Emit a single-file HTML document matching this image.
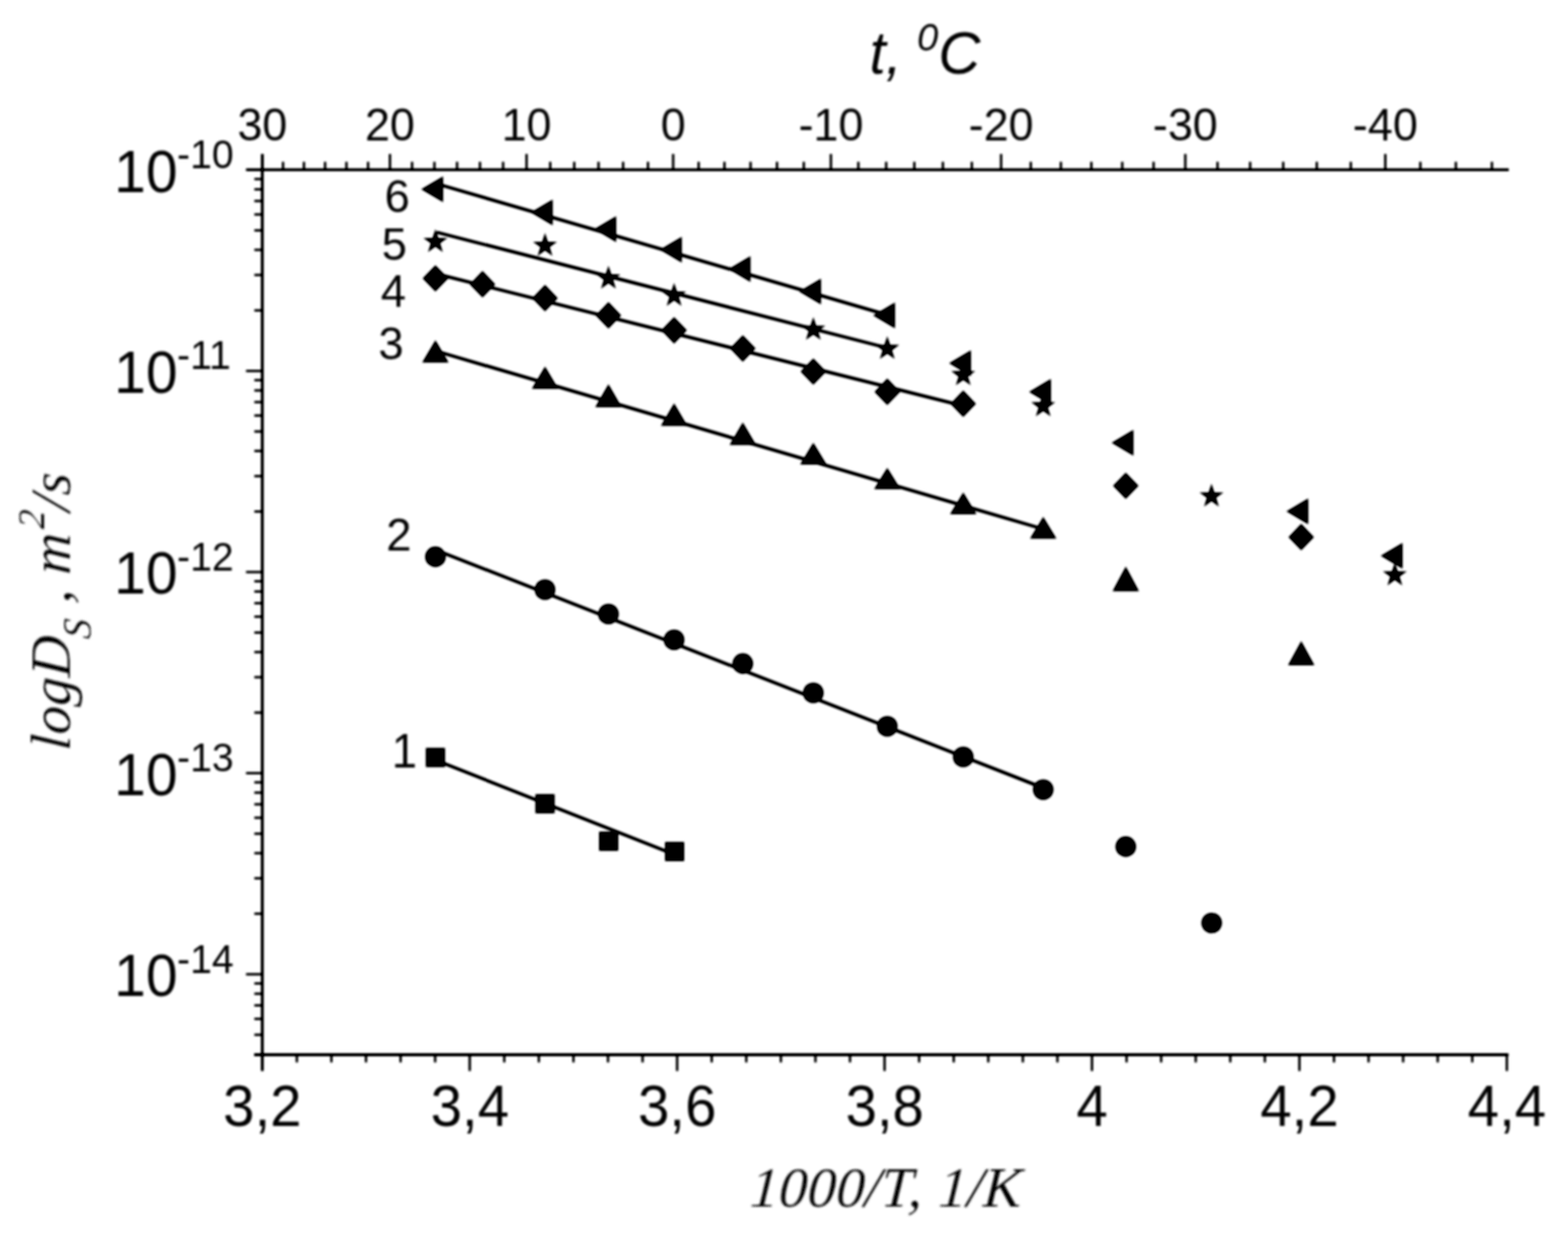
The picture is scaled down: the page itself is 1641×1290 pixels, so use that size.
<!DOCTYPE html>
<html lang="ru">
<head>
<meta charset="utf-8">
<title>logDs vs 1000/T</title>
<style>
html,body{margin:0;padding:0;background:#fff;}
body{width:1641px;height:1290px;overflow:hidden;}
svg{display:block;}
</style>
</head>
<body>
<svg width="1641" height="1290" viewBox="0 0 1641 1290">
<defs><filter id="soft" x="0" y="0" width="1641" height="1290" filterUnits="userSpaceOnUse"><feGaussianBlur stdDeviation="0.95"/><feComponentTransfer><feFuncA type="linear" slope="1.16" intercept="0"/></feComponentTransfer></filter><filter id="softt" x="0" y="0" width="1641" height="1290" filterUnits="userSpaceOnUse"><feGaussianBlur stdDeviation="0.9"/></filter></defs>
<rect x="0" y="0" width="1641" height="1290" fill="#fff"/>
<g filter="url(#soft)">
<g stroke="#000" stroke-width="2.8" fill="none" stroke-linecap="butt">
<line x1="274.5" y1="176.29999999999998" x2="274.5" y2="1120.5"/>
<line x1="257.5" y1="177.7" x2="1579" y2="177.7"/>
<line x1="266" y1="1103.5" x2="1578.7" y2="1103.5"/>
<line x1="274.56" y1="161.1" x2="274.56" y2="177.7"/>
<line x1="296.20" y1="169.29999999999998" x2="296.20" y2="177.7" stroke-width="2.3"/>
<line x1="318.09" y1="169.29999999999998" x2="318.09" y2="177.7" stroke-width="2.3"/>
<line x1="340.21" y1="169.29999999999998" x2="340.21" y2="177.7" stroke-width="2.3"/>
<line x1="362.58" y1="169.29999999999998" x2="362.58" y2="177.7" stroke-width="2.3"/>
<line x1="385.21" y1="169.29999999999998" x2="385.21" y2="177.7" stroke-width="2.3"/>
<line x1="408.10" y1="161.1" x2="408.10" y2="177.7" stroke-width="2.3"/>
<line x1="431.24" y1="169.29999999999998" x2="431.24" y2="177.7" stroke-width="2.3"/>
<line x1="454.65" y1="169.29999999999998" x2="454.65" y2="177.7" stroke-width="2.3"/>
<line x1="478.34" y1="169.29999999999998" x2="478.34" y2="177.7" stroke-width="2.3"/>
<line x1="502.30" y1="169.29999999999998" x2="502.30" y2="177.7" stroke-width="2.3"/>
<line x1="526.53" y1="169.29999999999998" x2="526.53" y2="177.7" stroke-width="2.3"/>
<line x1="551.06" y1="161.1" x2="551.06" y2="177.7" stroke-width="2.3"/>
<line x1="575.87" y1="169.29999999999998" x2="575.87" y2="177.7" stroke-width="2.3"/>
<line x1="600.98" y1="169.29999999999998" x2="600.98" y2="177.7" stroke-width="2.3"/>
<line x1="626.40" y1="169.29999999999998" x2="626.40" y2="177.7" stroke-width="2.3"/>
<line x1="652.11" y1="169.29999999999998" x2="652.11" y2="177.7" stroke-width="2.3"/>
<line x1="678.14" y1="169.29999999999998" x2="678.14" y2="177.7" stroke-width="2.3"/>
<line x1="704.49" y1="161.1" x2="704.49" y2="177.7" stroke-width="2.3"/>
<line x1="731.16" y1="169.29999999999998" x2="731.16" y2="177.7" stroke-width="2.3"/>
<line x1="758.16" y1="169.29999999999998" x2="758.16" y2="177.7" stroke-width="2.3"/>
<line x1="785.50" y1="169.29999999999998" x2="785.50" y2="177.7" stroke-width="2.3"/>
<line x1="813.17" y1="169.29999999999998" x2="813.17" y2="177.7" stroke-width="2.3"/>
<line x1="841.20" y1="169.29999999999998" x2="841.20" y2="177.7" stroke-width="2.3"/>
<line x1="869.58" y1="161.1" x2="869.58" y2="177.7" stroke-width="2.3"/>
<line x1="898.32" y1="169.29999999999998" x2="898.32" y2="177.7" stroke-width="2.3"/>
<line x1="927.44" y1="169.29999999999998" x2="927.44" y2="177.7" stroke-width="2.3"/>
<line x1="956.92" y1="169.29999999999998" x2="956.92" y2="177.7" stroke-width="2.3"/>
<line x1="986.79" y1="169.29999999999998" x2="986.79" y2="177.7" stroke-width="2.3"/>
<line x1="1017.06" y1="169.29999999999998" x2="1017.06" y2="177.7" stroke-width="2.3"/>
<line x1="1047.72" y1="161.1" x2="1047.72" y2="177.7" stroke-width="2.3"/>
<line x1="1078.78" y1="169.29999999999998" x2="1078.78" y2="177.7" stroke-width="2.3"/>
<line x1="1110.26" y1="169.29999999999998" x2="1110.26" y2="177.7" stroke-width="2.3"/>
<line x1="1142.17" y1="169.29999999999998" x2="1142.17" y2="177.7" stroke-width="2.3"/>
<line x1="1174.50" y1="169.29999999999998" x2="1174.50" y2="177.7" stroke-width="2.3"/>
<line x1="1207.28" y1="169.29999999999998" x2="1207.28" y2="177.7" stroke-width="2.3"/>
<line x1="1240.50" y1="161.1" x2="1240.50" y2="177.7" stroke-width="2.3"/>
<line x1="1274.19" y1="169.29999999999998" x2="1274.19" y2="177.7" stroke-width="2.3"/>
<line x1="1308.34" y1="169.29999999999998" x2="1308.34" y2="177.7" stroke-width="2.3"/>
<line x1="1342.97" y1="169.29999999999998" x2="1342.97" y2="177.7" stroke-width="2.3"/>
<line x1="1378.09" y1="169.29999999999998" x2="1378.09" y2="177.7" stroke-width="2.3"/>
<line x1="1413.70" y1="169.29999999999998" x2="1413.70" y2="177.7" stroke-width="2.3"/>
<line x1="1449.83" y1="161.1" x2="1449.83" y2="177.7" stroke-width="2.3"/>
<line x1="1486.47" y1="169.29999999999998" x2="1486.47" y2="177.7" stroke-width="2.3"/>
<line x1="1523.65" y1="169.29999999999998" x2="1523.65" y2="177.7" stroke-width="2.3"/>
<line x1="1561.37" y1="169.29999999999998" x2="1561.37" y2="177.7" stroke-width="2.3"/>
<line x1="310.68" y1="1103.5" x2="310.68" y2="1111.5" stroke-width="2.3"/>
<line x1="346.86" y1="1103.5" x2="346.86" y2="1111.5" stroke-width="2.3"/>
<line x1="383.04" y1="1103.5" x2="383.04" y2="1111.5" stroke-width="2.3"/>
<line x1="419.22" y1="1103.5" x2="419.22" y2="1111.5" stroke-width="2.3"/>
<line x1="455.40" y1="1103.5" x2="455.40" y2="1111.5" stroke-width="2.3"/>
<line x1="491.58" y1="1103.5" x2="491.58" y2="1120.5" stroke-width="2.3"/>
<line x1="527.76" y1="1103.5" x2="527.76" y2="1111.5" stroke-width="2.3"/>
<line x1="563.94" y1="1103.5" x2="563.94" y2="1111.5" stroke-width="2.3"/>
<line x1="600.12" y1="1103.5" x2="600.12" y2="1111.5" stroke-width="2.3"/>
<line x1="636.31" y1="1103.5" x2="636.31" y2="1111.5" stroke-width="2.3"/>
<line x1="672.49" y1="1103.5" x2="672.49" y2="1111.5" stroke-width="2.3"/>
<line x1="708.67" y1="1103.5" x2="708.67" y2="1120.5" stroke-width="2.3"/>
<line x1="744.85" y1="1103.5" x2="744.85" y2="1111.5" stroke-width="2.3"/>
<line x1="781.03" y1="1103.5" x2="781.03" y2="1111.5" stroke-width="2.3"/>
<line x1="817.21" y1="1103.5" x2="817.21" y2="1111.5" stroke-width="2.3"/>
<line x1="853.39" y1="1103.5" x2="853.39" y2="1111.5" stroke-width="2.3"/>
<line x1="889.57" y1="1103.5" x2="889.57" y2="1111.5" stroke-width="2.3"/>
<line x1="925.75" y1="1103.5" x2="925.75" y2="1120.5" stroke-width="2.3"/>
<line x1="961.93" y1="1103.5" x2="961.93" y2="1111.5" stroke-width="2.3"/>
<line x1="998.11" y1="1103.5" x2="998.11" y2="1111.5" stroke-width="2.3"/>
<line x1="1034.29" y1="1103.5" x2="1034.29" y2="1111.5" stroke-width="2.3"/>
<line x1="1070.47" y1="1103.5" x2="1070.47" y2="1111.5" stroke-width="2.3"/>
<line x1="1106.65" y1="1103.5" x2="1106.65" y2="1111.5" stroke-width="2.3"/>
<line x1="1142.83" y1="1103.5" x2="1142.83" y2="1120.5" stroke-width="2.3"/>
<line x1="1179.01" y1="1103.5" x2="1179.01" y2="1111.5" stroke-width="2.3"/>
<line x1="1215.19" y1="1103.5" x2="1215.19" y2="1111.5" stroke-width="2.3"/>
<line x1="1251.38" y1="1103.5" x2="1251.38" y2="1111.5" stroke-width="2.3"/>
<line x1="1287.56" y1="1103.5" x2="1287.56" y2="1111.5" stroke-width="2.3"/>
<line x1="1323.74" y1="1103.5" x2="1323.74" y2="1111.5" stroke-width="2.3"/>
<line x1="1359.92" y1="1103.5" x2="1359.92" y2="1120.5" stroke-width="2.3"/>
<line x1="1396.10" y1="1103.5" x2="1396.10" y2="1111.5" stroke-width="2.3"/>
<line x1="1432.28" y1="1103.5" x2="1432.28" y2="1111.5" stroke-width="2.3"/>
<line x1="1468.46" y1="1103.5" x2="1468.46" y2="1111.5" stroke-width="2.3"/>
<line x1="1504.64" y1="1103.5" x2="1504.64" y2="1111.5" stroke-width="2.3"/>
<line x1="1540.82" y1="1103.5" x2="1540.82" y2="1111.5" stroke-width="2.3"/>
<line x1="1577.00" y1="1103.5" x2="1577.00" y2="1120.5" stroke-width="2.3"/>
<line x1="257.5" y1="388.10" x2="274.5" y2="388.10" stroke-width="2.3"/>
<line x1="266.2" y1="324.76" x2="274.5" y2="324.76" stroke-width="2.3"/>
<line x1="266.2" y1="287.71" x2="274.5" y2="287.71" stroke-width="2.3"/>
<line x1="266.2" y1="261.43" x2="274.5" y2="261.43" stroke-width="2.3"/>
<line x1="266.2" y1="241.04" x2="274.5" y2="241.04" stroke-width="2.3"/>
<line x1="266.2" y1="224.38" x2="274.5" y2="224.38" stroke-width="2.3"/>
<line x1="266.2" y1="210.29" x2="274.5" y2="210.29" stroke-width="2.3"/>
<line x1="266.2" y1="198.09" x2="274.5" y2="198.09" stroke-width="2.3"/>
<line x1="266.2" y1="187.33" x2="274.5" y2="187.33" stroke-width="2.3"/>
<line x1="257.5" y1="598.50" x2="274.5" y2="598.50" stroke-width="2.3"/>
<line x1="266.2" y1="535.16" x2="274.5" y2="535.16" stroke-width="2.3"/>
<line x1="266.2" y1="498.11" x2="274.5" y2="498.11" stroke-width="2.3"/>
<line x1="266.2" y1="471.83" x2="274.5" y2="471.83" stroke-width="2.3"/>
<line x1="266.2" y1="451.44" x2="274.5" y2="451.44" stroke-width="2.3"/>
<line x1="266.2" y1="434.78" x2="274.5" y2="434.78" stroke-width="2.3"/>
<line x1="266.2" y1="420.69" x2="274.5" y2="420.69" stroke-width="2.3"/>
<line x1="266.2" y1="408.49" x2="274.5" y2="408.49" stroke-width="2.3"/>
<line x1="266.2" y1="397.73" x2="274.5" y2="397.73" stroke-width="2.3"/>
<line x1="257.5" y1="808.90" x2="274.5" y2="808.90" stroke-width="2.3"/>
<line x1="266.2" y1="745.56" x2="274.5" y2="745.56" stroke-width="2.3"/>
<line x1="266.2" y1="708.51" x2="274.5" y2="708.51" stroke-width="2.3"/>
<line x1="266.2" y1="682.23" x2="274.5" y2="682.23" stroke-width="2.3"/>
<line x1="266.2" y1="661.84" x2="274.5" y2="661.84" stroke-width="2.3"/>
<line x1="266.2" y1="645.18" x2="274.5" y2="645.18" stroke-width="2.3"/>
<line x1="266.2" y1="631.09" x2="274.5" y2="631.09" stroke-width="2.3"/>
<line x1="266.2" y1="618.89" x2="274.5" y2="618.89" stroke-width="2.3"/>
<line x1="266.2" y1="608.13" x2="274.5" y2="608.13" stroke-width="2.3"/>
<line x1="257.5" y1="1019.30" x2="274.5" y2="1019.30" stroke-width="2.3"/>
<line x1="266.2" y1="955.96" x2="274.5" y2="955.96" stroke-width="2.3"/>
<line x1="266.2" y1="918.91" x2="274.5" y2="918.91" stroke-width="2.3"/>
<line x1="266.2" y1="892.63" x2="274.5" y2="892.63" stroke-width="2.3"/>
<line x1="266.2" y1="872.24" x2="274.5" y2="872.24" stroke-width="2.3"/>
<line x1="266.2" y1="855.58" x2="274.5" y2="855.58" stroke-width="2.3"/>
<line x1="266.2" y1="841.49" x2="274.5" y2="841.49" stroke-width="2.3"/>
<line x1="266.2" y1="829.29" x2="274.5" y2="829.29" stroke-width="2.3"/>
<line x1="266.2" y1="818.53" x2="274.5" y2="818.53" stroke-width="2.3"/>
<line x1="266.2" y1="1082.64" x2="274.5" y2="1082.64" stroke-width="2.3"/>
<line x1="266.2" y1="1065.98" x2="274.5" y2="1065.98" stroke-width="2.3"/>
<line x1="266.2" y1="1051.89" x2="274.5" y2="1051.89" stroke-width="2.3"/>
<line x1="266.2" y1="1039.69" x2="274.5" y2="1039.69" stroke-width="2.3"/>
<line x1="266.2" y1="1028.93" x2="274.5" y2="1028.93" stroke-width="2.3"/>
</g>
<g stroke="#000" stroke-width="3.3" fill="none">
<line x1="456.5" y1="795.5" x2="704" y2="893.3"/>
<line x1="457.5" y1="576.0" x2="1091.8" y2="824.4"/>
<line x1="457" y1="367.5" x2="1091.8" y2="553.5"/>
<line x1="457" y1="286.6" x2="1008" y2="424.6"/>
<line x1="457" y1="243" x2="928.6" y2="364"/>
<line x1="456" y1="192.0" x2="930" y2="329.8"/>
</g>
<g fill="#000" stroke="none">
<rect x="445.70" y="782.50" width="20.0" height="20.0"/>
<rect x="560.40" y="830.90" width="20.0" height="20.0"/>
<rect x="627.00" y="870.10" width="20.0" height="20.0"/>
<rect x="696.00" y="880.90" width="20.0" height="20.0"/>
<circle cx="455.7" cy="582.5" r="10.7"/>
<circle cx="570.4" cy="616.9" r="10.7"/>
<circle cx="636.8" cy="642.4" r="10.7"/>
<circle cx="705.5" cy="669.4" r="10.7"/>
<circle cx="777.4" cy="694.2" r="10.7"/>
<circle cx="851.2" cy="724.9" r="10.7"/>
<circle cx="928.6" cy="759.9" r="10.7"/>
<circle cx="1008.1" cy="791.9" r="10.7"/>
<circle cx="1091.8" cy="826.1" r="10.7"/>
<circle cx="1178.2" cy="885.7" r="10.7"/>
<circle cx="1268.1" cy="965.6" r="10.7"/>
<polygon points="455.7,355.90 441.9,379.30 469.5,379.30"/>
<polygon points="570.4,383.40 556.6,406.80 584.1999999999999,406.80"/>
<polygon points="636.8,402.10 623.0,426.10 650.5999999999999,426.10"/>
<polygon points="705.5,422.10 691.7,445.60 719.3,445.60"/>
<polygon points="777.4,442.00 763.6,465.40 791.1999999999999,465.40"/>
<polygon points="851.2,463.30 837.4000000000001,485.90 865.0,485.90"/>
<polygon points="928.6,489.50 914.8000000000001,511.70 942.4,511.70"/>
<polygon points="1008.1,515.20 994.3000000000001,537.90 1021.9,537.90"/>
<polygon points="1091.8,540.70 1078.0,563.60 1105.6,563.60"/>
<polygon points="1178.2,592.80 1164.4,618.50 1192.0,618.50"/>
<polygon points="1361.8,670.70 1348.0,695.90 1375.6,695.90"/>
<polygon points="455.7,277.4 469.0,291.2 455.7,305.0 442.4,291.2"/>
<polygon points="505,283.59999999999997 518.3,297.4 505,311.2 491.7,297.4"/>
<polygon points="570.4,298.09999999999997 583.6999999999999,311.9 570.4,325.7 557.1,311.9"/>
<polygon points="636.8,316.09999999999997 650.0999999999999,329.9 636.8,343.7 623.5,329.9"/>
<polygon points="705.5,331.8 718.8,345.6 705.5,359.40000000000003 692.2,345.6"/>
<polygon points="777.4,350.8 790.6999999999999,364.6 777.4,378.40000000000003 764.1,364.6"/>
<polygon points="851.2,374.9 864.5,388.7 851.2,402.5 837.9000000000001,388.7"/>
<polygon points="928.6,396.09999999999997 941.9,409.9 928.6,423.7 915.3000000000001,409.9"/>
<polygon points="1008.1,408.59999999999997 1021.4,422.4 1008.1,436.2 994.8000000000001,422.4"/>
<polygon points="1178.2,494.4 1191.5,508.2 1178.2,522.0 1164.9,508.2"/>
<polygon points="1361.8,548.1 1375.1,561.9 1361.8,575.6999999999999 1348.5,561.9"/>
<polygon points="455.70,239.80 458.66,248.92 468.25,248.92 460.50,254.56 463.46,263.68 455.70,258.04 447.94,263.68 450.90,254.56 443.15,248.92 452.74,248.92"/>
<polygon points="570.40,243.80 573.36,252.92 582.95,252.92 575.20,258.56 578.16,267.68 570.40,262.04 562.64,267.68 565.60,258.56 557.85,252.92 567.44,252.92"/>
<polygon points="636.80,278.00 639.76,287.12 649.35,287.12 641.60,292.76 644.56,301.88 636.80,296.24 629.04,301.88 632.00,292.76 624.25,287.12 633.84,287.12"/>
<polygon points="705.50,296.00 708.46,305.12 718.05,305.12 710.30,310.76 713.26,319.88 705.50,314.24 697.74,319.88 700.70,310.76 692.95,305.12 702.54,305.12"/>
<polygon points="851.20,331.70 854.16,340.82 863.75,340.82 856.00,346.46 858.96,355.58 851.20,349.94 843.44,355.58 846.40,346.46 838.65,340.82 848.24,340.82"/>
<polygon points="928.60,351.70 931.56,360.82 941.15,360.82 933.40,366.46 936.36,375.58 928.60,369.94 920.84,375.58 923.80,366.46 916.05,360.82 925.64,360.82"/>
<polygon points="1008.10,379.20 1011.06,388.32 1020.65,388.32 1012.90,393.96 1015.86,403.08 1008.10,397.44 1000.34,403.08 1003.30,393.96 995.55,388.32 1005.14,388.32"/>
<polygon points="1091.80,411.70 1094.76,420.82 1104.35,420.82 1096.60,426.46 1099.56,435.58 1091.80,429.94 1084.04,435.58 1087.00,426.46 1079.25,420.82 1088.84,420.82"/>
<polygon points="1267.90,506.10 1270.86,515.22 1280.45,515.22 1272.70,520.86 1275.66,529.98 1267.90,524.34 1260.14,529.98 1263.10,520.86 1255.35,515.22 1264.94,515.22"/>
<polygon points="1459.80,588.60 1462.76,597.72 1472.35,597.72 1464.60,603.36 1467.56,612.48 1459.80,606.84 1452.04,612.48 1455.00,603.36 1447.25,597.72 1456.84,597.72"/>
<polygon points="440.90,198 463.70,184.5 463.70,211.5"/>
<polygon points="555.60,222.2 578.40,208.7 578.40,235.7"/>
<polygon points="622.00,239.7 644.80,226.2 644.80,253.2"/>
<polygon points="690.70,261.2 713.50,247.7 713.50,274.7"/>
<polygon points="762.60,281.5 785.40,268.0 785.40,295.0"/>
<polygon points="836.40,305 859.20,291.5 859.20,318.5"/>
<polygon points="913.80,330 936.60,316.5 936.60,343.5"/>
<polygon points="993.30,379.9 1016.10,366.4 1016.10,393.4"/>
<polygon points="1077.00,409.9 1099.80,396.4 1099.80,423.4"/>
<polygon points="1163.40,463.2 1186.20,449.7 1186.20,476.7"/>
<polygon points="1346.30,534.9 1369.10,521.4 1369.10,548.4"/>
<polygon points="1445.00,581.6 1467.80,568.1 1467.80,595.1"/>
</g>
</g>
<g filter="url(#softt)">
<g fill="#000" font-family="'Liberation Sans', sans-serif">
<text transform="translate(274.6,146.6) scale(1,1.04)" font-size="47" text-anchor="middle">30</text>
<text transform="translate(408.1,146.6) scale(1,1.04)" font-size="47" text-anchor="middle">20</text>
<text transform="translate(551.1,146.6) scale(1,1.04)" font-size="47" text-anchor="middle">10</text>
<text transform="translate(704.5,146.6) scale(1,1.04)" font-size="47" text-anchor="middle">0</text>
<text transform="translate(869.6,146.6) scale(1,1.04)" font-size="47" text-anchor="middle">-10</text>
<text transform="translate(1047.7,146.6) scale(1,1.04)" font-size="47" text-anchor="middle">-20</text>
<text transform="translate(1240.5,146.6) scale(1,1.04)" font-size="47" text-anchor="middle">-30</text>
<text transform="translate(1449.8,146.6) scale(1,1.04)" font-size="47" text-anchor="middle">-40</text>
<text transform="translate(274.6,1178) scale(1,1.035)" font-size="59" text-anchor="middle">3,2</text>
<text transform="translate(491.7,1178) scale(1,1.035)" font-size="59" text-anchor="middle">3,4</text>
<text transform="translate(708.8,1178) scale(1,1.035)" font-size="59" text-anchor="middle">3,6</text>
<text transform="translate(925.9,1178) scale(1,1.035)" font-size="59" text-anchor="middle">3,8</text>
<text transform="translate(1142.9,1178) scale(1,1.035)" font-size="59" text-anchor="middle">4</text>
<text transform="translate(1360.0,1178) scale(1,1.035)" font-size="59" text-anchor="middle">4,2</text>
<text transform="translate(1577.1,1178) scale(1,1.035)" font-size="59" text-anchor="middle">4,4</text>
<text transform="translate(119.6,200.6) scale(1,1.045)" font-size="59.5">10<tspan font-size="41" dy="-23.5" dx="-0.5">-10</tspan></text>
<text transform="translate(119.6,411.0) scale(1,1.045)" font-size="59.5">10<tspan font-size="41" dy="-23.5" dx="-0.5">-11</tspan></text>
<text transform="translate(119.6,621.4) scale(1,1.045)" font-size="59.5">10<tspan font-size="41" dy="-23.5" dx="-0.5">-12</tspan></text>
<text transform="translate(119.6,831.8) scale(1,1.045)" font-size="59.5">10<tspan font-size="41" dy="-23.5" dx="-0.5">-13</tspan></text>
<text transform="translate(119.6,1042.2) scale(1,1.045)" font-size="59.5">10<tspan font-size="41" dy="-23.5" dx="-0.5">-14</tspan></text>
<text transform="translate(402.5,222.3) scale(1,1.0)" font-size="47.5">6</text>
<text transform="translate(399.5,272.3) scale(1,1.0)" font-size="47.5">5</text>
<text transform="translate(398.5,321) scale(1,1.0)" font-size="47.5">4</text>
<text transform="translate(396,376.3) scale(1,1.0)" font-size="47.5">3</text>
<text transform="translate(404.3,575.6) scale(1,1.02)" font-size="47.5">2</text>
<text transform="translate(410,802.6) scale(1,1.06)" font-size="47.5">1</text>
<text transform="translate(910,76.5) scale(1,1.03)" font-size="61" font-style="italic">t, <tspan font-size="40" dy="-23.3" dx="-1">0</tspan><tspan dy="23.3">C</tspan></text>
</g>
<g fill="#000" stroke="#fff" stroke-width="0.15" font-family="'Liberation Serif', serif" font-style="italic">
<text transform="translate(784.2,1262.4) skewX(-3.5)" font-size="60">1000/T,<tspan dx="1.8"> 1/K</tspan></text>
<text transform="translate(73.2,786.0) rotate(-90) skewX(-3.5)" font-size="60">logD<tspan font-size="42" dy="22" dx="-1.8">S</tspan><tspan dy="-22"> , m</tspan><tspan font-size="40" dy="-27" dx="3">2</tspan><tspan dy="27">/s</tspan></text>
</g>
</g>
</svg>
</body>
</html>
